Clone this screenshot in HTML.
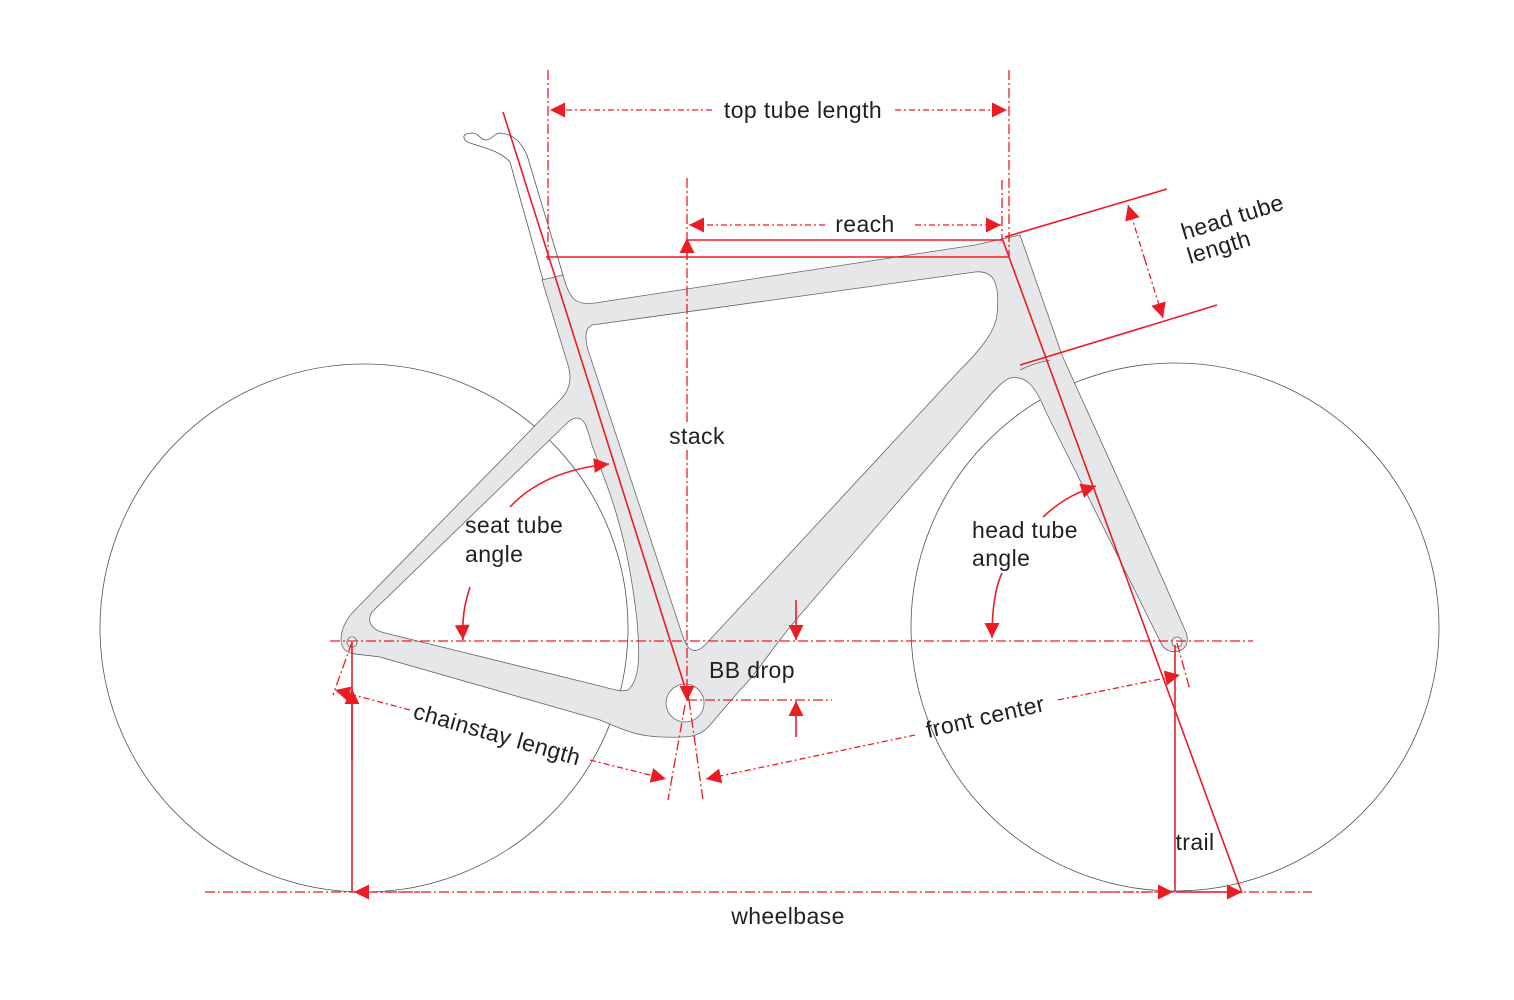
<!DOCTYPE html>
<html><head><meta charset="utf-8"><style>
html,body{margin:0;padding:0;background:#fff;}
svg{display:block;}
text{font-family:"Liberation Sans",Arial,sans-serif;font-size:23px;letter-spacing:0.4px;fill:#231f20;}
</style></head><body>
<svg width="1514" height="1000" viewBox="0 0 1514 1000" xmlns="http://www.w3.org/2000/svg">
<defs>
<marker id="a" viewBox="0 0 10 10" refX="10" refY="5" markerWidth="26" markerHeight="15" markerUnits="userSpaceOnUse" orient="auto"><path d="M0,0L10,5L0,10z" fill="#ed1c24"/></marker>
</defs>
<circle cx="364" cy="628" r="264" fill="none" stroke="#555" stroke-width="0.8"/>
<circle cx="1175" cy="627" r="264" fill="none" stroke="#555" stroke-width="0.8"/>
<path d="M510,162 L543,280 M527,155 L563,275 M527,155 C520,140 512,134 500,133 C494,133 492,140 486,140 C480,140 479,133 472,133 L466,134 C462,136 464,141 470,143 C485,148 500,151 510,162" fill="none" stroke="#555" stroke-width="0.8"/>
<path fill="#e6e7e8" stroke="#666" stroke-width="0.8" fill-rule="evenodd" d="
M542,280 L563,275 C570,300 575,305 595,303 L975,245 L1002,239 L1020,235 L1062,355 C1075,385 1115,470 1185,630 C1195,652 1170,658 1162,645 L1045,410 C1035,385 1025,375 1010,378 C1000,382 990,395 960,430 L800,615 C770,650 760,670 740,690 L710,725 C700,737 690,738 660,737 C640,736 630,733 600,720 L380,657 C360,654 350,655 345,650 C338,643 340,625 355,610 L560,400 C570,390 572,378 568,365 Z
M592,325 L975,272 C995,270 1000,285 997,315 C995,330 985,345 960,370 L705,645 C695,655 688,650 684,640 L588,350 C584,335 586,328 592,325 Z
M577,418 C585,418 587,428 592,445 L605,480 C620,520 630,560 637,620 C640,655 640,680 628,690 C622,692 615,690 600,686 L385,633 C372,630 366,622 372,612 L565,425 C570,420 573,418 577,418 Z
M685,684 A19,19 0 1 0 685.1,684 Z"/>
<path d="M1020,370 C1030,365 1040,362 1050,360" fill="none" stroke="#666" stroke-width="0.8"/>
<circle cx="352" cy="642" r="5" fill="#fff" stroke="#666" stroke-width="0.8"/>
<circle cx="1177" cy="642" r="5" fill="#fff" stroke="#666" stroke-width="0.8"/>

<g stroke="#ed1c24" fill="none" stroke-width="1.6">
<line x1="503" y1="112" x2="689" y2="700"/>
<line x1="546" y1="257" x2="1009" y2="257"/>
<line x1="687" y1="240" x2="1003" y2="240"/>
<line x1="1002" y1="238" x2="1242" y2="893"/>
<line x1="1005" y1="237" x2="1167" y2="189"/>
<line x1="1020" y1="365" x2="1217" y2="305"/>
<line x1="352" y1="642" x2="352" y2="892"/>
<line x1="1175" y1="645" x2="1175" y2="892"/>
</g>
<g stroke="#ed1c24" fill="none" stroke-width="1.3" stroke-dasharray="10,3,2,3">
<line x1="548" y1="70" x2="548" y2="260"/>
<line x1="1009" y1="70" x2="1009" y2="257"/>
<line x1="1002" y1="180" x2="1002" y2="240"/>
<line x1="687" y1="178" x2="687" y2="425"/>
<line x1="687" y1="450" x2="687" y2="700"/>
<line x1="330" y1="641" x2="1253" y2="641"/>
<line x1="687" y1="700" x2="832" y2="700"/>
<line x1="689" y1="700" x2="703" y2="800"/>
<line x1="685" y1="705" x2="668" y2="800"/>
<line x1="352" y1="642" x2="333" y2="695"/>
<line x1="1177" y1="643" x2="1190" y2="690"/>
<line x1="205" y1="892" x2="1312" y2="892"/>
</g>
<g stroke="#ed1c24" fill="none" stroke-width="1.3" stroke-dasharray="6,3,2,3" marker-end="url(#a)">
<line x1="712" y1="110" x2="550" y2="110"/>
<line x1="895" y1="110" x2="1007" y2="110"/>
<line x1="825" y1="225" x2="689" y2="225"/>
<line x1="915" y1="225" x2="1001" y2="225"/>
<line x1="1145" y1="260" x2="1128" y2="205"/>
<line x1="1145" y1="260" x2="1163" y2="318"/>
<line x1="410" y1="710" x2="335" y2="690"/>
<line x1="590" y1="760" x2="666" y2="779"/>
<line x1="915" y1="735" x2="706" y2="779"/>
<line x1="1058" y1="700" x2="1180" y2="675"/>
<line x1="420" y1="892" x2="354" y2="892"/>
<line x1="1100" y1="892" x2="1173" y2="892"/>
</g>
<g stroke="#ed1c24" fill="none" stroke-width="1.6" marker-end="url(#a)">
<line x1="352" y1="760" x2="352" y2="689"/>
<line x1="796" y1="600" x2="796" y2="640"/>
<line x1="796" y1="737" x2="796" y2="701"/>
<line x1="1176" y1="892" x2="1242" y2="892"/>
<path d="M510,507 C535,480 570,468 609,464"/>
<path d="M470,587 C464,605 462,620 463,640"/>
<path d="M1043,517 C1058,503 1072,494 1096,486"/>
<path d="M1002,573 C994,590 992,615 992,638"/>
</g>
<g stroke="#ed1c24" fill="none" stroke-width="1.3">
<line x1="687" y1="260" x2="687" y2="238" marker-end="url(#a)"/>
<line x1="687" y1="680" x2="687" y2="701" marker-end="url(#a)"/>
</g>

<text x="803" y="118" text-anchor="middle">top tube length</text>
<text x="865" y="232" text-anchor="middle">reach</text>
<text x="697" y="444" text-anchor="middle">stack</text>
<text x="465" y="533">seat tube</text>
<text x="465" y="562">angle</text>
<text x="972" y="538">head tube</text>
<text x="972" y="566">angle</text>
<text x="709" y="678">BB drop</text>
<text x="1195" y="850" text-anchor="middle">trail</text>
<text x="788" y="924" text-anchor="middle">wheelbase</text>
<text transform="translate(1184,240) rotate(-17)">head tube</text>
<text transform="translate(1190,264) rotate(-17)">length</text>
<text transform="translate(412,718) rotate(16)">chainstay length</text>
<text transform="translate(928,738) rotate(-13)">front center</text>
</svg>
</body></html>
